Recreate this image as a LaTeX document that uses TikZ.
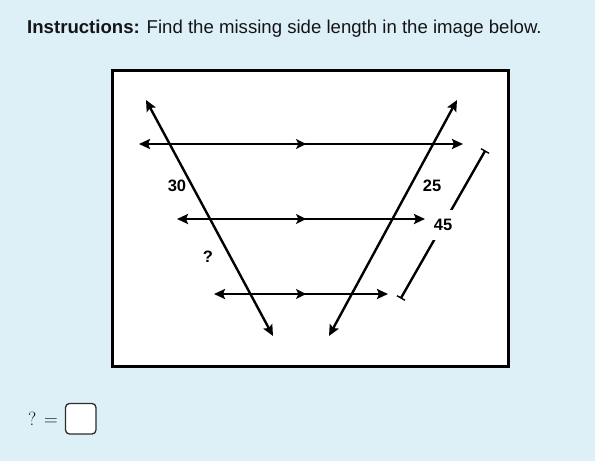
\documentclass[tikz,border=0pt]{standalone}
\usepackage{fontspec}
\setmainfont{Liberation Sans}
\newfontfamily\figfont{Liberation Sans}
\newfontfamily\mathlike{Latin Modern Roman}
\usetikzlibrary{arrows.meta}
\definecolor{bgblue}{RGB}{221,240,247}
\definecolor{ink}{RGB}{21,21,24}
\tikzset{
  ln/.style={line width=2.4pt, draw=black},
  dbl/.style={ln, {Stealth[length=11pt,width=10pt,inset=2pt]}-{Stealth[length=11pt,width=10pt,inset=2pt]}},
  tip/.style={ln, -{Stealth[length=10pt,width=10pt,inset=2.5pt]}},
  lbl/.style={font=\figfont\bfseries\fontsize{16.5}{17}\selectfont, inner sep=1pt},
}
\begin{document}
\begin{tikzpicture}[x=1pt,y=-1pt]
\fill[bgblue] (0,0) rectangle (595,461);
\useasboundingbox (0,0) rectangle (595,461);
% title
\node[anchor=base west, inner sep=0pt, text=ink, font=\fontsize{18.6}{20}\selectfont] (title) at (27,33)
  {\textbf{Instructions:} Find the missing side length in the image below.};
% frame
\draw[line width=3pt, fill=white] (112,70.5) rectangle (508,366);
% transversals
\coordinate (L1) at (146,100);
\coordinate (L2) at (273,336);
\coordinate (R1) at (457,100);
\coordinate (R2) at (329,336);
\draw[dbl] (L2) -- (L1);
\draw[dbl] (R2) -- (R1);
% parallel lines
\coordinate (a1) at (139,144); \coordinate (a2) at (463,144);
\coordinate (b1) at (177,219); \coordinate (b2) at (425,219);
\coordinate (c1) at (214,294); \coordinate (c2) at (388,294);
\draw[dbl] (a1) -- (a2);
\draw[dbl] (b1) -- (b2);
\draw[dbl] (c1) -- (c2);
\coordinate (am) at (306,144); \coordinate (bm) at (306,219); \coordinate (cm) at (306,294);
\foreach \m in {am,bm,cm} \draw[tip] ([xshift=-12pt]\m) -- (\m);
% labels
\node[lbl] (n30) at (177,186) {30};
\node[lbl] (n25) at (432,186) {25};
\node[lbl] (nq) at (208,257) {?};
% dimension
\coordinate (d1) at (485,151);
\coordinate (d2) at (401,298);
\draw[line width=2.4pt] (d1) -- node[lbl, fill=white, minimum height=30pt, minimum width=22pt, inner sep=0pt] (n45) {45} (d2);
\draw[line width=1.4pt] ([shift={(-4,-2.3)}]d1) -- ([shift={(4,2.3)}]d1);
\draw[line width=1.4pt] ([shift={(-4,-2.3)}]d2) -- ([shift={(4,2.3)}]d2);
% answer
\node[anchor=base west, inner sep=0pt, text=ink, font=\mathlike\fontsize{19}{22}\selectfont] (ans) at (28,425) {? =};
\draw[line width=1.3pt, draw=ink!90, fill=white, rounded corners=4pt] (65.5,403.5) rectangle (96,434) node[pos=0.5] (box) {};
\end{tikzpicture}
\end{document}
